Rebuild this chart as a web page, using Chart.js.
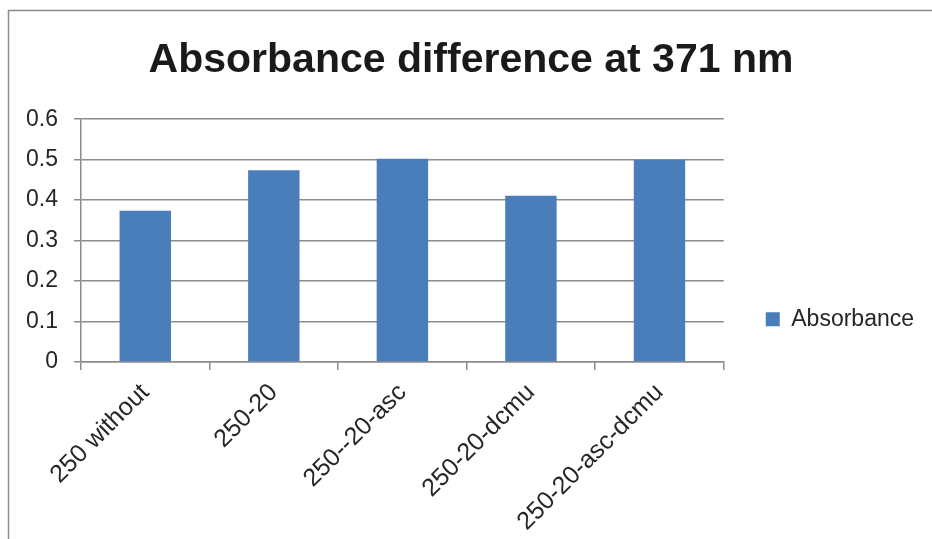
<!DOCTYPE html>
<html>
<head>
<meta charset="utf-8">
<script src="https://cdn.jsdelivr.net/npm/chart.js@4/dist/chart.umd.min.js"></script>
<style>
  html, body { margin: 0; padding: 0; background: #fff; }
  #wrap { width: 932px; height: 539px; position: relative; }
</style>
</head>
<body>
<div id="wrap"><canvas id="c" width="932" height="539"></canvas></div>
<script>
// Samples and measured absorbance difference at 371 nm
const categories = ['250 without', '250-20', '250--20-asc', '250-20-dcmu', '250-20-asc-dcmu'];
const absorbance = [0.374, 0.474, 0.502, 0.411, 0.500];
const seriesName = 'Absorbance';
const chartTitle = 'Absorbance difference at 371 nm';

// Value axis range
const yMin = 0;
const yMax = 0.6;
const yStep = 0.1;

const GRID = '#8c8c8c';
const TEXT = '#262626';
const BAR = '#4a7ebb';

Chart.defaults.font.family = "'Liberation Sans', Arial, sans-serif";

// White background plus the thin outer frame along the top and left edges
const framePlugin = {
  id: 'frame',
  beforeDraw(chart) {
    const ctx = chart.ctx;
    ctx.save();
    ctx.fillStyle = '#fff';
    ctx.fillRect(0, 0, chart.width, chart.height);
    ctx.strokeStyle = GRID;
    ctx.lineWidth = 1.5;
    ctx.beginPath();
    ctx.moveTo(8.5, chart.height);
    ctx.lineTo(8.5, 10.5);
    ctx.lineTo(chart.width, 10.5);
    ctx.stroke();
    ctx.restore();
  }
};

new Chart(document.getElementById('c'), {
  type: 'bar',
  data: {
    labels: categories,
    datasets: [{
      label: seriesName,
      data: absorbance,
      backgroundColor: BAR,
      borderWidth: 0,
      categoryPercentage: 1,
      barPercentage: 0.4
    }]
  },
  options: {
    responsive: false,
    animation: false,
    layout: { padding: { top: 14, left: 18, right: 8, bottom: 0 } },
    plugins: {
      title: {
        display: true,
        text: chartTitle,
        color: '#1a1a1a',
        font: { size: 41, weight: 'bold' },
        padding: { top: 22, bottom: 34 }
      },
      legend: {
        position: 'right',
        maxWidth: 208,
        title: { display: true, text: '', padding: { top: 71, bottom: 0 } },
        labels: {
          boxWidth: 14,
          boxHeight: 14,
          padding: 42,
          color: TEXT,
          font: { size: 23 }
        }
      },
      tooltip: { enabled: false }
    },
    scales: {
      x: {
        grid: { drawOnChartArea: false, drawTicks: true, tickLength: 8, color: GRID, lineWidth: 1.5 },
        border: { color: GRID, width: 1.5 },
        ticks: { minRotation: 45, maxRotation: 45, color: TEXT, font: { size: 25 }, padding: 8 },
        afterFit(scale) { scale.height = 177; }
      },
      y: {
        min: yMin,
        max: yMax,
        grid: { color: GRID, lineWidth: 1.5, tickLength: 7 },
        border: { color: GRID, width: 1.5 },
        ticks: { stepSize: yStep, color: TEXT, font: { size: 23 }, padding: 16 },
        afterFit(scale) { scale.width = 63; }
      }
    }
  },
  plugins: [framePlugin]
});
</script>
</body>
</html>
